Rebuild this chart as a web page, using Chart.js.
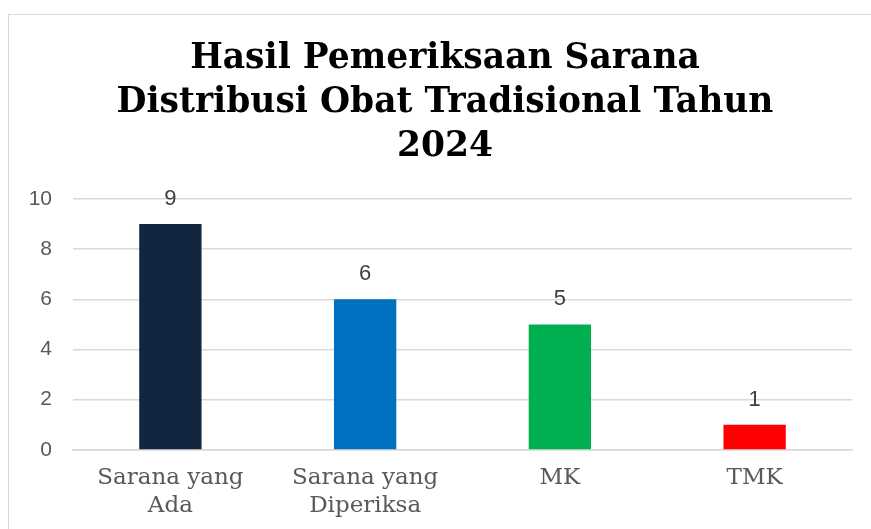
<!DOCTYPE html>
<html>
<head>
<meta charset="utf-8">
<script src="https://cdn.jsdelivr.net/npm/chart.js@4/dist/chart.umd.min.js"></script>
<style>
  html, body { margin: 0; padding: 0; background: #fff; overflow: hidden; width: 871px; height: 529px; }
  #frame { position: absolute; left: 8px; top: 14px; width: 880px; height: 540px; border: 1.5px solid #d9d9d9; box-sizing: border-box; }
  #wrap { position: absolute; left: 0; top: 0; width: 878px; height: 519px; }
</style>
</head>
<body>
<div id="frame"><div id="wrap"><canvas id="c"></canvas></div></div>
<script>
const titleLines = ['Hasil Pemeriksaan Sarana', 'Distribusi Obat Tradisional Tahun', '2024'];
const categories = [['Sarana yang', 'Ada'], ['Sarana yang', 'Diperiksa'], 'MK', 'TMK'];
const values = [9, 6, 5, 1];
const barColors = ['#12263f', '#0070c0', '#00b050', '#ff0000'];
const yTicks = [0, 2, 4, 6, 8, 10];

const valueLabels = {
  id: 'valueLabels',
  afterLayout(chart) {
    if (chart.titleBlock) { chart.titleBlock.left += 4.5; chart.titleBlock.right += 4.5; }
  },
  afterDatasetsDraw(chart) {
    const ctx = chart.ctx;
    const meta = chart.getDatasetMeta(0);
    ctx.save();
    ctx.font = '22px "Liberation Sans", Arial, sans-serif';
    ctx.fillStyle = '#404040';
    ctx.textAlign = 'center';
    ctx.textBaseline = 'middle';
    meta.data.forEach((bar, i) => {
      ctx.fillText(String(chart.data.datasets[0].data[i]), bar.x, bar.y - 25);
    });
    ctx.restore();
  }
};

new Chart(document.getElementById('c'), {
  type: 'bar',
  data: {
    labels: categories,
    datasets: [{
      data: values,
      backgroundColor: barColors,
      barPercentage: 0.32,
      categoryPercentage: 1.0
    }]
  },
  options: {
    responsive: true,
    maintainAspectRatio: false,
    animation: false,
    layout: { padding: { left: 20, right: 35, top: 0, bottom: 0 } },
    plugins: {
      legend: { display: false },
      tooltip: { enabled: false },
      title: {
        display: true,
        text: titleLines,
        color: '#000',
        font: { family: '"DejaVu Serif", serif', size: 34.5, weight: 'bold', lineHeight: 1.275 },
        padding: { top: 22, bottom: 30 }
      }
    },
    scales: {
      x: {
        afterFit: s => { s.paddingLeft = 0; s.paddingRight = 0; },
        grid: { display: false, drawTicks: false },
        border: { display: true, color: '#d9d9d9', width: 1.5 },
        ticks: {
          color: '#595959',
          padding: 14,
          maxRotation: 0,
          autoSkip: false,
          font: { family: '"DejaVu Serif", serif', size: 23, lineHeight: 1.22 }
        }
      },
      y: {
        min: 0, max: 10,
        afterFit: s => { s.width = 44; },
        afterBuildTicks: s => { s.ticks = yTicks.map(v => ({ value: v })); },
        grid: { color: '#d9d9d9', lineWidth: 1.5, drawTicks: false },
        border: { display: false },
        ticks: {
          color: '#595959',
          padding: 21,
          font: { family: '"Liberation Sans", Arial, sans-serif', size: 21 }
        }
      }
    }
  },
  plugins: [valueLabels]
});
</script>
</body>
</html>
